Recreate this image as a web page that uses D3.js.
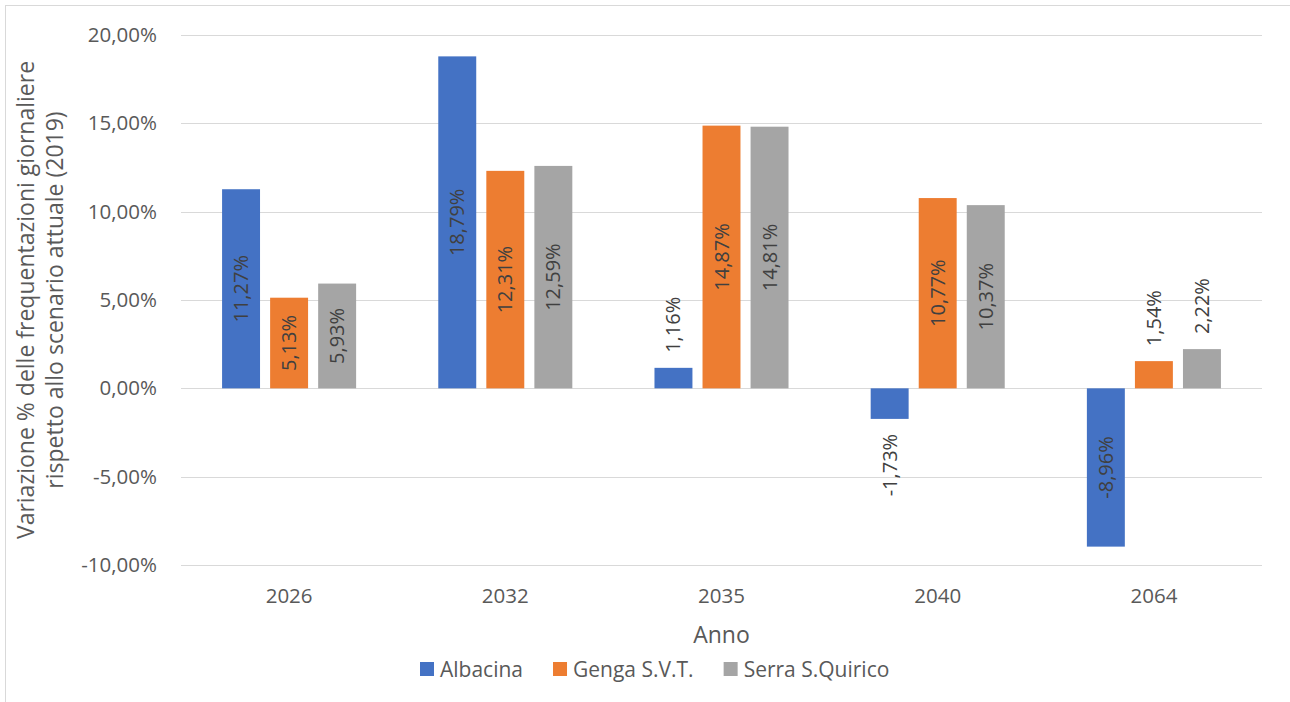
<!DOCTYPE html>
<html>
<head>
<meta charset="utf-8">
<script src="https://cdn.jsdelivr.net/npm/d3@7"></script>
<style>
  body { margin: 0; background: #fff; }
  text { font-family: "Open Sans", sans-serif; }
</style>
</head>
<body>
<svg class="chart"></svg>
<script>
var width = 1290, height = 702;

// data
var years = ["2026", "2032", "2035", "2040", "2064"];
var seriesNames = ["Albacina", "Genga S.V.T.", "Serra S.Quirico"];
var albacina = [11.27, 18.79, 1.16, -1.73, -8.96];
var genga = [5.13, 12.31, 14.87, 10.77, 1.54];
var serra = [5.93, 12.59, 14.81, 10.37, 2.22];
var yTicks = [-10, -5, 0, 5, 10, 15, 20];
var colors = ["#4472C4", "#ED7D31", "#A5A5A5"];

var values = [albacina, genga, serra];

var chart = d3.select(".chart")
    .attr("width", width)
    .attr("height", height)

// chart frame (runs off the right and bottom of the picture)
chart.append("rect")
    .attr("x", 5.5).attr("y", 5.5)
    .attr("width", 1400).attr("height", 800)
    .attr("fill", "none")
    .attr("stroke", "#D9D9D9")
    .attr("stroke-width", 1)

// italian style numbers: comma decimal, plain hyphen minus
var locale = d3.formatLocale({decimal: ",", thousands: ".", grouping: [3], currency: ["", "€"], minus: "-"});
var fmt = locale.format(".2f");

var x0 = d3.scaleBand()
    .domain(years)
    .range([181, 1262])
    .paddingInner(0.38)
    .paddingOuter(0.19);

var x1 = d3.scaleBand()
    .domain(seriesNames)
    .range([0, x0.bandwidth()])
    .paddingInner(0.21);

var y = d3.scaleLinear()
    .domain([-10, 20])
    .range([565, 35]);

// gridlines
chart.append("g")
    .selectAll("line")
    .data(yTicks)
    .enter().append("line")
    .attr("x1", 181).attr("x2", 1262)
    .attr("y1", function(d) { return Math.round(y(d)) + 0.5; })
    .attr("y2", function(d) { return Math.round(y(d)) + 0.5; })
    .attr("stroke", "#D9D9D9")
    .attr("stroke-width", 1.2)

// y axis labels
var y_axis = d3.axisLeft(y)
    .tickValues(yTicks)
    .tickSize(0)
    .tickPadding(0)
    .tickFormat(function(d) { return fmt(d) + "%"; });

var gy = chart.append("g")
    .attr("transform", "translate(157,0)")
    .call(y_axis)
gy.select(".domain").remove();
gy.selectAll("text")
    .attr("font-family", "Open Sans")
    .attr("font-size", 20.5)
    .attr("fill", "#595959")

// x axis labels
var x_axis = d3.axisBottom(x0).tickSize(0).tickPadding(0);
var gx = chart.append("g")
    .attr("transform", "translate(0,588)")
    .call(x_axis)
gx.select(".domain").remove();
gx.selectAll("text")
    .attr("font-family", "Open Sans")
    .attr("font-size", 20.5)
    .attr("fill", "#595959")

// bars
var rows = [];
years.forEach(function(yr, i) {
    seriesNames.forEach(function(s, j) {
        rows.push({year: yr, series: s, idx: j, value: values[j][i]});
    });
});

var bar = chart.append("g")
    .selectAll("g")
    .data(rows)
    .enter().append("g")
    .attr("transform", function(d) {
        return "translate(" + (x0(d.year) + x1(d.series)) + ",0)";
    })

bar.append("rect")
    .attr("x", 0)
    .attr("width", x1.bandwidth())
    .attr("y", function(d) { return Math.min(y(d.value), y(0)); })
    .attr("height", function(d) { return Math.abs(y(d.value) - y(0)); })
    .attr("fill", function(d) { return colors[d.idx]; })

// value labels, rotated; inside the bar when it is long enough
bar.append("text")
    .attr("font-size", 20)
    .attr("fill", "#404040")
    .attr("dy", "0.35em")
    .text(function(d) { return fmt(d.value) + "%"; })
    .each(function(d) {
        var t = d3.select(this);
        var len = this.getComputedTextLength();
        var h = Math.abs(y(d.value) - y(0));
        var cx = x1.bandwidth() / 2;
        var py, anchor;
        if (h > len + 12) {
            py = (y(d.value) + y(0)) / 2;
            anchor = "middle";
        } else if (d.value >= 0) {
            py = y(d.value) - 15;
            anchor = "start";
        } else {
            py = y(d.value) + 15;
            anchor = "end";
        }
        t.attr("text-anchor", anchor)
         .attr("transform", "translate(" + cx + "," + py + ") rotate(-90)");
    })

// axis titles
var yTitle = chart.append("text")
    .attr("transform", "translate(34,300) rotate(-90)")
    .attr("text-anchor", "middle")
    .attr("font-size", 23)
    .attr("fill", "#595959")
yTitle.append("tspan").attr("x", 0).attr("y", 0)
    .text("Variazione % delle frequentazioni giornaliere");
yTitle.append("tspan").attr("x", 0).attr("y", 29)
    .text("rispetto allo scenario attuale (2019)");

chart.append("text")
    .attr("x", (181 + 1262) / 2)
    .attr("y", 643)
    .attr("text-anchor", "middle")
    .attr("font-size", 23)
    .attr("fill", "#595959")
    .text("Anno")

// legend
var lx = 420;
seriesNames.forEach(function(s, j) {
    chart.append("rect")
        .attr("x", lx).attr("y", 662)
        .attr("width", 14).attr("height", 14)
        .attr("fill", colors[j])
    var t = chart.append("text")
        .attr("x", lx + 20)
        .attr("y", 677)
        .attr("font-size", 21)
        .attr("fill", "#595959")
        .text(s)
    lx = lx + 20 + t.node().getComputedTextLength() + 30;
});
</script>
</body>
</html>
